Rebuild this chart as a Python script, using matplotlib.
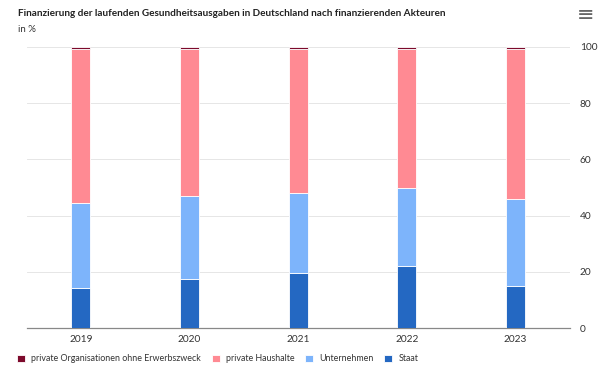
import numpy as np
import matplotlib
matplotlib.use('Agg')
from matplotlib import pyplot as plt

years = ['2019', '2020', '2021', '2022', '2023']
staat = [14.2, 17.5, 19.6, 22.2, 15.0]
unternehmen = [30.3, 29.5, 28.4, 27.7, 30.9]
haushalte = [54.7, 52.2, 51.2, 49.3, 53.3]
organisationen = [0.8, 0.8, 0.8, 0.8, 0.8]

series = [
  ('Staat', staat, '#2468c2'),
  ('Unternehmen', unternehmen, '#7db4fb'),
  ('private Haushalte', haushalte, '#ff8a93'),
  ('private Organisationen ohne Erwerbszweck', organisationen, '#7d0a2c'),
]

plt.rcParams['font.family'] = ['Lato', 'DejaVu Sans']

fig = plt.figure(figsize=(6.05, 3.72), dpi=100)
ax = fig.add_axes([0.044, 0.118, 0.898, 0.756])

x = np.arange(len(years))
bottom = np.zeros(len(years))
bars = {}
for name, vals, col in series:
  bars[name] = ax.bar(x, vals, width=0.175, bottom=bottom, color=col,
                      edgecolor='white', linewidth=0.6, zorder=3)
  bottom = bottom + np.array(vals)

ax.set_xlim(-0.5, len(years) - 0.5)
ax.set_ylim(0, 100)
ax.set_yticks([0, 20, 40, 60, 80, 100])
ax.yaxis.tick_right()
ax.set_xticks(x)
ax.set_xticklabels(years)
ax.tick_params(axis='both', length=0, labelsize=7.3, colors='#333333')
ax.tick_params(axis='y', pad=7)
ax.tick_params(axis='x', pad=5)
ax.grid(axis='y', color='#e6e6e6', linewidth=0.7, zorder=0)
for s in ['top', 'left', 'right']:
  ax.spines[s].set_visible(False)
ax.spines['bottom'].set_color('#888888')
ax.spines['bottom'].set_linewidth(0.9)

fig.text(0.03, 0.963, 'Finanzierung der laufenden Gesundheitsausgaben in Deutschland nach finanzierenden Akteuren',
         fontsize=7.2, fontweight='bold', color='#222222', va='center')
fig.text(0.03, 0.92, 'in %', fontsize=7, color='#333333', va='center')
fig.text(0.968, 0.96, '\u2261', fontsize=15, color='#666666', va='center', ha='center', family='DejaVu Sans')

order = ['private Organisationen ohne Erwerbszweck', 'private Haushalte', 'Unternehmen', 'Staat']
fig.legend([bars[n][0] for n in order], order, ncol=4, loc='center left',
           bbox_to_anchor=(0.015, 0.035), frameon=False, fontsize=6.4,
           handlelength=0.9, handleheight=0.9, handletextpad=0.7,
           columnspacing=1.2, labelcolor='#333333')

plt.savefig('out.png', dpi=100)
